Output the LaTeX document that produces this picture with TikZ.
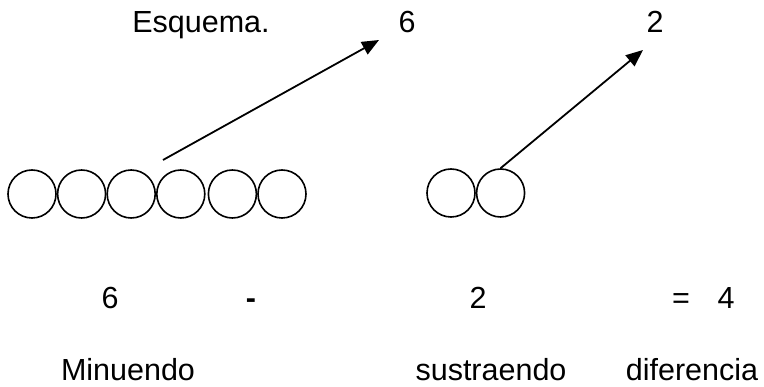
\documentclass[tikz,border=0pt]{standalone}
\usepackage{fontspec}
\setmainfont{Liberation Sans}
\usepackage{tikz}
\usetikzlibrary{arrows.meta}
\usetikzlibrary{positioning}

\begin{document}
\begin{tikzpicture}[x=1pt,y=-1pt,>={Triangle[length=17pt,width=14pt]}, line width=1.8pt]
	\tikzstyle{bola}=[draw, circle, minimum size=48pt, inner sep=0pt, line width=1.6pt]
	\tikzstyle{txt}=[anchor=base, inner sep=0pt, font=\fontsize{30.5}{36}\selectfont]
	\useasboundingbox (0,0) rectangle (764,387);

	% titulo y numeros de arriba
	\node[txt] (esq) at (201,33) {Esquema.};
	\node[txt] (t6) at (407,33) {6};
	\node[txt] (t2) at (655,33) {2};

	% minuendo
	\node[bola] (m1) at (32,194) {};
	\node[bola] (m2) [right=0pt of m1] {};
	\node[bola] (m3) [right=0pt of m2] {};
	\node[bola] (m4) [right=0pt of m3] {};
	\node[bola] (m5) [right=2pt of m4] {};
	\node[bola] (m6) [right=0pt of m5] {};

	% sustraendo
	\node[bola] (s1) at (451,193) {};
	\node[bola] (s2) [right=0pt of s1] {};

	\coordinate (p1) at (163,160);
	\coordinate (q1) at (379,40);
	\coordinate (q2) at (643,50);
	\draw[->] (p1) -- (q1);
	\draw[->] (s2.north) -- (q2);

	% operacion
	\node[txt] (b6) at (110,309) {6};
	\node[txt] (menos) at (251,309) {\textbf{-}};
	\node[txt] (b2) at (478,309) {2};
	\node[txt] (igual) at (681,309) {=};
	\node[txt] (b4) at (726,309) {4};

	% nombres
	\node[txt] (min) at (128,381) {Minuendo};
	\node[txt] (sus) at (491,381) {sustraendo};
	\node[txt] (dif) at (692,381) {diferencia};
\end{tikzpicture}
\end{document}
